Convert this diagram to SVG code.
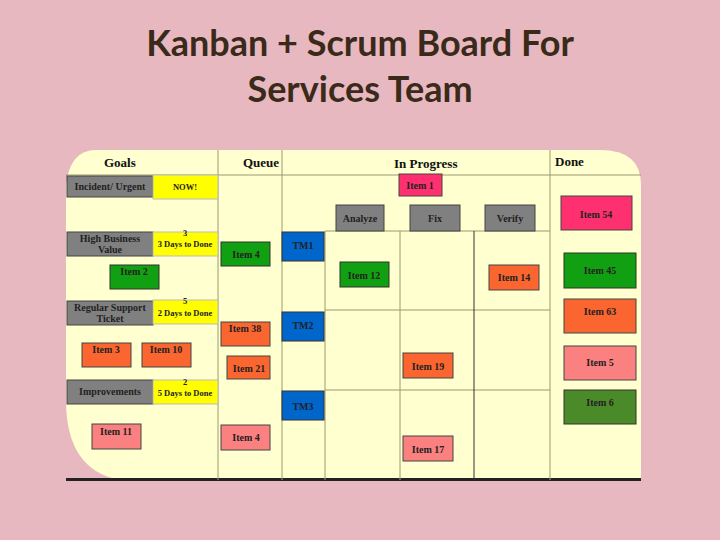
<svg xmlns="http://www.w3.org/2000/svg" width="720" height="540" viewBox="0 0 720 540">
<style>
.t{font-family:"Liberation Serif",serif;font-weight:bold;font-size:10px;text-anchor:middle;fill:#222}
.s{font-size:8.5px}
.h{font-family:"Liberation Serif",serif;font-weight:bold;font-size:13px;fill:#111}
.ttl{font-family:"Lato","Open Sans",sans-serif;font-weight:bold;font-size:36px;text-anchor:middle;fill:#3a2a1a}
.ln{stroke:#9a9a70;stroke-width:1;fill:none}
.g{fill:#808080;stroke:#444}
.y{fill:#ffff00;stroke:#bbb}
.gr{fill:#11a011;stroke:#333}
.or{fill:#fb6630;stroke:#444}
.pk{fill:#fb8080;stroke:#444}
.mg{fill:#ff3070;stroke:#444}
.bl{fill:#0066cc;stroke:#333}
.dg{fill:#4a8a28;stroke:#333}
</style>
<rect width="720" height="540" fill="#e8b8c0"/>
<text class="ttl" x="360" y="56">Kanban + Scrum Board For</text>
<text class="ttl" x="360" y="102">Services Team</text>
<g id="board">
<path d="M96,150 H600 Q641,150 641,185 V480 H120 Q66,470 66,400 V185 Q70,150 96,150 Z" fill="#ffffd0"/>
<rect x="66" y="478" width="575" height="3" fill="#222"/>
<line class="ln" x1="66" y1="175" x2="641" y2="175"/>
<line class="ln" x1="218" y1="150" x2="218" y2="480"/>
<line class="ln" x1="282" y1="150" x2="282" y2="480"/>
<line class="ln" x1="550" y1="150" x2="550" y2="480"/>
<line class="ln" x1="325" y1="231" x2="550" y2="231"/>
<line class="ln" x1="325" y1="310" x2="550" y2="310"/>
<line class="ln" x1="325" y1="390" x2="550" y2="390"/>
<line class="ln" x1="325" y1="231" x2="325" y2="480"/>
<line class="ln" x1="400" y1="231" x2="400" y2="480"/>
<line x1="474" y1="231" x2="474" y2="480" stroke="#333"/>
<text class="h" x="104" y="167">Goals</text>
<text class="h" x="243" y="167">Queue</text>
<text class="h" x="394" y="168">In Progress</text>
<text class="h" x="555" y="166">Done</text>
</g>
<g id="goals">
<rect class="g" x="67" y="176" width="86" height="21"/><text class="t" x="110" y="190">Incident/ Urgent</text>
<rect class="y" x="153" y="175" width="65" height="24"/><text class="t s" x="185" y="190">NOW!</text>
<rect class="g" x="67" y="232" width="86" height="24"/><text class="t" x="110" y="242">High Business</text><text class="t" x="110" y="253">Value</text>
<rect class="y" x="153" y="232" width="65" height="24"/><text class="t s" x="185" y="236">3</text><text class="t s" x="185" y="247">3 Days to Done</text>
<rect class="g" x="67" y="301" width="86" height="24"/><text class="t" x="110" y="311">Regular Support</text><text class="t" x="110" y="322">Ticket</text>
<rect class="y" x="153" y="300" width="65" height="24"/><text class="t s" x="185" y="304">5</text><text class="t s" x="185" y="316">2 Days to Done</text>
<rect class="g" x="67" y="380" width="86" height="24"/><text class="t" x="110" y="395" font-weight="normal">Improvements</text>
<rect class="y" x="153" y="380" width="65" height="24"/><text class="t s" x="185" y="385">2</text><text class="t s" x="185" y="396">5 Days to Done</text>
</g>
<g id="items">
<rect class="gr" x="110" y="265" width="49" height="24"/><text class="t" x="134" y="275">Item 2</text>
<rect class="or" x="82" y="343" width="49" height="24"/><text class="t" x="106" y="353">Item 3</text>
<rect class="or" x="142" y="343" width="49" height="24"/><text class="t" x="166" y="353">Item 10</text>
<rect class="pk" x="92" y="424" width="49" height="25"/><text class="t" x="116" y="435">Item 11</text>
<rect class="gr" x="221" y="242" width="49" height="24"/><text class="t" x="246" y="258">Item 4</text>
<rect class="or" x="221" y="322" width="49" height="24"/><text class="t" x="245" y="332">Item 38</text>
<rect class="or" x="227" y="356" width="43" height="23"/><text class="t" x="249" y="372">Item 21</text>
<rect class="pk" x="221" y="425" width="49" height="25"/><text class="t" x="246" y="441">Item 4</text>
<rect class="bl" x="282" y="232" width="42" height="29"/><text class="t" x="303" y="249">TM1</text>
<rect class="bl" x="282" y="312" width="42" height="29"/><text class="t" x="303" y="329">TM2</text>
<rect class="bl" x="282" y="391" width="42" height="29"/><text class="t" x="303" y="410">TM3</text>
<rect class="mg" x="399" y="174" width="43" height="22"/><text class="t" x="420" y="189">Item 1</text>
<rect class="g" x="336" y="205" width="48" height="26"/><text class="t" x="360" y="222">Analyze</text>
<rect class="g" x="410" y="205" width="50" height="26"/><text class="t" x="435" y="222">Fix</text>
<rect class="g" x="485" y="205" width="50" height="26"/><text class="t" x="510" y="222">Verify</text>
<rect class="gr" x="340" y="262" width="49" height="25"/><text class="t" x="364" y="279">Item 12</text>
<rect class="or" x="489" y="265" width="50" height="25"/><text class="t" x="514" y="281">Item 14</text>
<rect class="or" x="403" y="353" width="50" height="25"/><text class="t" x="428" y="370">Item 19</text>
<rect class="pk" x="403" y="436" width="50" height="25"/><text class="t" x="428" y="453">Item 17</text>
<rect class="mg" x="561" y="196" width="71" height="34"/><text class="t" x="596" y="218">Item 54</text>
<rect class="gr" x="564" y="253" width="72" height="35"/><text class="t" x="600" y="274">Item 45</text>
<rect class="or" x="564" y="299" width="72" height="34"/><text class="t" x="600" y="315">Item 63</text>
<rect class="pk" x="564" y="346" width="72" height="34"/><text class="t" x="600" y="366">Item 5</text>
<rect class="dg" x="564" y="390" width="72" height="34"/><text class="t" x="600" y="406">Item 6</text>
</g>
</svg>
